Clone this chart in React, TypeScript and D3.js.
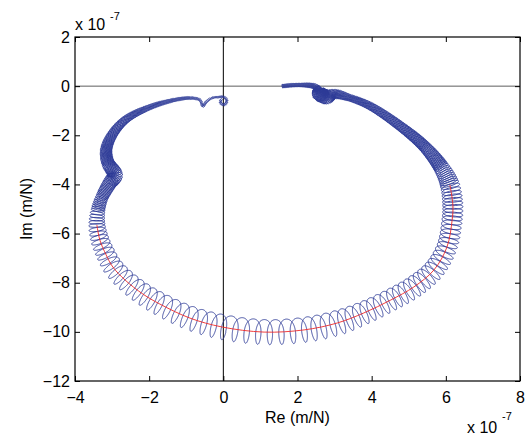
import React, { useRef, useEffect } from 'react';
import * as d3 from 'd3';

// Nyquist plot of a measured FRF, units of 1e-7 m/N
const xTicks = [-4, -2, 0, 2, 4, 6, 8];
const yTicks = [2, 0, -2, -4, -6, -8, -10, -12];

// measured trace (blue): centre line of the rippled curve, from low to high frequency
const traceRe = [
  1.58, 2.07, 2.50, 2.57, 2.79, 2.98, 3.42, 3.96, 4.87, 5.44, 5.87, 6.11, 6.19, 6.17, 6.03, 5.68,
  5.14, 4.52, 3.79, 3.07, 2.18, 1.10, -0.04, -0.90, -1.71, -2.17, -2.65, -2.98, -3.16, -3.33, -3.41,
  -3.38, -3.27, -3.06, -2.92, -3.11, -3.16, -3.00, -2.65, -2.11, -1.44, -0.90, -0.63, -0.55, -0.47,
  -0.31, -0.14, 0.02, 0.10, 0.02, -0.09, -0.04,
];
const traceIm = [
  0.00, 0.05, -0.04, -0.28, -0.44, -0.32, -0.48, -0.81, -1.74, -2.48, -3.29, -4.02, -4.84, -5.45, -6.55, -7.48,
  -8.17, -8.70, -9.23, -9.64, -9.92, -10.01, -9.80, -9.44, -8.87, -8.46, -7.89, -7.36, -6.87, -6.26, -5.65,
  -5.04, -4.51, -3.94, -3.62, -3.13, -2.60, -1.99, -1.38, -0.93, -0.60, -0.48, -0.56, -0.81, -0.65,
  -0.48, -0.44, -0.44, -0.60, -0.77, -0.65, -0.52,
];
// ripple amplitude around the centre line (1e-7 m/N)
const traceRipple = [
  0.08, 0.08, 0.12, 0.30, 0.30, 0.20, 0.14, 0.16, 0.20, 0.24, 0.31, 0.39, 0.41, 0.41, 0.41, 0.43,
  0.45, 0.45, 0.47, 0.51, 0.51, 0.51, 0.51, 0.49, 0.47, 0.45, 0.43, 0.41, 0.39, 0.37, 0.33,
  0.28, 0.25, 0.28, 0.31, 0.26, 0.24, 0.20, 0.16, 0.12, 0.08, 0.06, 0.05, 0.05, 0.05,
  0.04, 0.04, 0.04, 0.05, 0.05, 0.05, 0.04,
];
// number of ripple loops between consecutive points
const traceLoops = [
  18, 16, 12, 14, 10, 16, 22, 40, 28, 22, 10, 6, 4, 6, 5, 4.5,
  4, 4, 3.5, 3.5, 3.5, 3.7, 3.3, 3.5, 2.4, 2.9, 2.5, 2.3, 3.2, 3.8,
  5, 8, 12, 9, 14, 13, 16, 20, 23, 24, 18, 8, 5, 4, 5,
  5, 5, 4, 4, 4, 3,
];

// smoothed response (red)
const meanRe = [6.11, 6.19, 6.17, 6.03, 5.68, 5.14, 4.52, 3.79, 3.07, 2.18, 1.10, -0.04, -0.90, -1.71, -2.17, -2.65, -2.98, -3.16, -3.33, -3.41];
const meanIm = [-4.02, -4.84, -5.45, -6.55, -7.48, -8.17, -8.70, -9.23, -9.64, -9.92, -10.01, -9.80, -9.44, -8.87, -8.46, -7.89, -7.36, -6.87, -6.26, -5.65];

const W = 528;
const H = 437;
const plot = { left: 75, right: 520, top: 37, bottom: 381 };
const font = '"Liberation Sans", Arial, Helvetica, sans-serif';

const App = () => {
  const svgRef = useRef<SVGSVGElement>(null);

  useEffect(() => {
    const svg = d3.select(svgRef.current);
    svg.selectAll('*').remove();

    const x = d3.scaleLinear().domain([-4, 8]).range([plot.left, plot.right]);
    const y = d3.scaleLinear().domain([-12, 2]).range([plot.bottom, plot.top]);

    svg.append('rect').attr('width', W).attr('height', H).attr('fill', '#fff');

    // zero lines
    svg.append('line')
      .attr('x1', plot.left).attr('x2', plot.right).attr('y1', y(0)).attr('y2', y(0))
      .attr('stroke', '#333').attr('stroke-width', 0.8);
    svg.append('line')
      .attr('x1', x(0)).attr('x2', x(0)).attr('y1', plot.top).attr('y2', plot.bottom)
      .attr('stroke', '#000').attr('stroke-width', 1);

    // blue rippled trace
    const line = d3.line().curve(d3.curveCatmullRom.alpha(0.5));
    const pts: [number, number][] = traceRe.map((r, i) => [x(r), y(traceIm[i])]);
    const probe = svg.append('path').attr('fill', 'none').attr('stroke', 'none');
    const node = probe.node() as SVGPathElement;
    const stationLen: number[] = [0];
    for (let i = 1; i < pts.length; i++) {
      probe.attr('d', line(pts.slice(0, i + 1)));
      stationLen.push(Math.max(stationLen[i - 1] + 0.01, node.getTotalLength()));
    }
    probe.attr('d', line(pts));
    const total = node.getTotalLength();
    stationLen[stationLen.length - 1] = total;

    const cum = [0];
    traceLoops.forEach((n, i) => cum.push(cum[i] + n));
    const pxPerUnit = y(0) - y(1);
    const at = (s: number) => node.getPointAtLength(Math.max(0, Math.min(total, s)));

    const out: [number, number][] = [];
    let seg = 0;
    for (let s = 0; s <= total; s += 0.08) {
      while (seg < stationLen.length - 2 && s > stationLen[seg + 1]) seg++;
      const segLen = stationLen[seg + 1] - stationLen[seg];
      const t = Math.min(1, (s - stationLen[seg]) / segLen);
      const th = 2 * Math.PI * (cum[seg] + t * traceLoops[seg]);
      const amp = (traceRipple[seg] + t * (traceRipple[seg + 1] - traceRipple[seg])) * pxPerUnit;
      const spacing = segLen / traceLoops[seg];
      // centre advances mostly at one end of each loop so the loops close up
      const sEff = s + spacing * (
        1.5 * Math.sin(th) / (2 * Math.PI) +
        0.6 * Math.sin(2 * th) / (4 * Math.PI) +
        0.1 * Math.sin(3 * th) / (6 * Math.PI));
      const p = at(sEff);
      const a = at(sEff - 0.6);
      const b = at(sEff + 0.6);
      let tx = b.x - a.x, ty = b.y - a.y;
      const n = Math.hypot(tx, ty) || 1;
      tx /= n; ty /= n;
      const nx = -ty, ny = tx;
      const minor = Math.min(2.8, amp * 0.24);
      out.push([
        p.x + amp * Math.cos(th) * nx + minor * Math.sin(th) * tx,
        p.y + amp * Math.cos(th) * ny + minor * Math.sin(th) * ty,
      ]);
    }
    probe.remove();

    svg.append('path')
      .attr('d', d3.line()(out))
      .attr('fill', 'none')
      .attr('stroke', '#2c3a96')
      .attr('stroke-width', 0.9)
      .attr('stroke-linejoin', 'round');

    // red smoothed curve
    svg.append('path')
      .attr('d', d3.line<number>().x(r => x(r)).y((r, i) => y(meanIm[i])).curve(d3.curveCatmullRom)(meanRe))
      .attr('fill', 'none')
      .attr('stroke', '#ee2a2a')
      .attr('stroke-width', 0.9);

    // axes
    const styleAxis = (g) => {
      g.select('.domain').remove();
      g.selectAll('line').attr('stroke', '#000').attr('stroke-width', 1);
      g.selectAll('text').attr('fill', '#000').attr('font-size', 16).attr('font-family', font);
    };
    svg.append('g').attr('transform', `translate(0,${plot.bottom})`)
      .call(d3.axisBottom(x).tickValues(xTicks).tickSizeInner(-5).tickSizeOuter(0).tickPadding(11).tickFormat(d3.format('d')))
      .call(styleAxis);
    svg.append('g').attr('transform', `translate(0,${plot.top})`)
      .call(d3.axisTop(x).tickValues(xTicks).tickSizeInner(-5).tickSizeOuter(0).tickFormat(() => ''))
      .call(styleAxis);
    svg.append('g').attr('transform', `translate(${plot.left},0)`)
      .call(d3.axisLeft(y).tickValues(yTicks).tickSizeInner(-5).tickSizeOuter(0).tickPadding(5).tickFormat(d3.format('d')))
      .call(styleAxis);
    svg.append('g').attr('transform', `translate(${plot.right},0)`)
      .call(d3.axisRight(y).tickValues(yTicks).tickSizeInner(-5).tickSizeOuter(0).tickFormat(() => ''))
      .call(styleAxis);

    svg.append('rect')
      .attr('x', plot.left).attr('y', plot.top)
      .attr('width', plot.right - plot.left).attr('height', plot.bottom - plot.top)
      .attr('fill', 'none').attr('stroke', '#000').attr('stroke-width', 1.2);

    // labels
    const txt = (tx, ty, s, size = 16, anchor = 'start') =>
      svg.append('text').attr('x', tx).attr('y', ty).attr('font-size', size)
        .attr('font-family', font).attr('text-anchor', anchor).attr('fill', '#000').text(s);

    txt((plot.left + plot.right) / 2, 423, 'Re (m/N)', 16, 'middle');
    svg.append('text')
      .attr('transform', `translate(32,${(plot.top + plot.bottom) / 2}) rotate(-90)`)
      .attr('font-size', 16).attr('font-family', font).attr('text-anchor', 'middle').attr('fill', '#000')
      .text('Im (m/N)');

    txt(75, 30, 'x 10', 16);
    txt(110, 20, '-7', 11);
    txt(467, 433, 'x 10', 16);
    txt(502, 420, '-7', 11);
  }, []);

  return (
    <svg ref={svgRef} width={W} height={H} style={{ position: 'absolute', left: 0, top: 0 }} />
  );
};

export default App;
